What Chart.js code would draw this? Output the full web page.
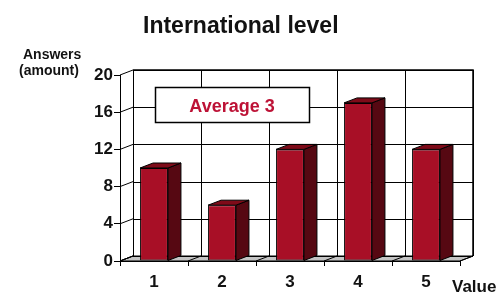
<!DOCTYPE html>
<html>
<head>
<meta charset="utf-8">
<script src="https://cdn.jsdelivr.net/npm/chart.js@4/dist/chart.umd.min.js"></script>
<style>
  html, body { margin: 0; padding: 0; background: #fff; }
  canvas { display: block; }
</style>
</head>
<body>
<canvas id="c" width="501" height="294"></canvas>
<script>
// ---- data ----
const categories = ['1', '2', '3', '4', '5'];
const answers = [10, 6, 12, 17, 12];
const yTickValues = [0, 4, 8, 12, 16, 20];
const titleText = 'International level';
const yAxisTitle = ['Answers', '(amount)'];
const xAxisTitle = 'Value';
const averageLabel = 'Average 3';

// ---- style ----
const FONT = '"Liberation Sans", Arial, sans-serif';
const TEXT = '#121212';
const DX = 13, DY = -5;           // depth offset of 3D walls
const FRONT = '#a80f26', TOP = '#7e0b19', SIDE = '#560812';

function boundaries(x) {
  const out = [];
  for (let k = 0; k <= categories.length; k++) out.push(x.getPixelForValue(k - 0.5));
  return out;
}

const wallsPlugin = {
  id: 'walls',
  beforeDraw(chart) {
    const ctx = chart.ctx, x = chart.scales.x, y = chart.scales.y;
    const ca = chart.chartArea;
    ctx.save();
    ctx.fillStyle = '#fff';
    ctx.fillRect(0, 0, chart.width, chart.height);
    const L = ca.left, R = ca.right, T = y.getPixelForValue(20), B = y.getPixelForValue(0);
    // floor
    ctx.beginPath();
    ctx.moveTo(L, B); ctx.lineTo(R, B); ctx.lineTo(R + DX, B + DY); ctx.lineTo(L + DX, B + DY); ctx.closePath();
    ctx.fillStyle = '#c4c4c4'; ctx.fill();
    ctx.strokeStyle = '#000'; ctx.lineWidth = 1; ctx.stroke();
    // back wall grid (horizontal)
    ctx.lineWidth = 1;
    yTickValues.forEach(v => {
      const py = Math.round(y.getPixelForValue(v) + DY) + 0.5;
      ctx.beginPath(); ctx.moveTo(L + DX, py); ctx.lineTo(R + DX, py); ctx.stroke();
      // left wall slant
      const fy = y.getPixelForValue(v);
      ctx.beginPath(); ctx.moveTo(L, fy); ctx.lineTo(L + DX, fy + DY); ctx.stroke();
    });
    // back wall verticals + floor slants
    boundaries(x).forEach(bx => {
      const px = Math.round(bx + DX) + 0.5;
      ctx.beginPath(); ctx.moveTo(px, T + DY); ctx.lineTo(px, B + DY); ctx.stroke();
      ctx.beginPath(); ctx.moveTo(bx, B); ctx.lineTo(bx + DX, B + DY); ctx.stroke();
    });
    // right edge of back wall a bit heavier
    ctx.lineWidth = 1.5;
    ctx.beginPath(); ctx.moveTo(L + DX, T + DY); ctx.lineTo(R + DX, T + DY); ctx.lineTo(R + DX, B + DY); ctx.stroke();
    // legend box "Average 3"
    const bx0 = 155, by0 = 87, bw = 154, bh = 35;
    ctx.fillStyle = '#fff';
    ctx.fillRect(bx0, by0, bw, bh);
    ctx.lineWidth = 1.5; ctx.strokeStyle = '#000';
    ctx.strokeRect(bx0 + 0.5, by0 + 0.5, bw, bh);
    ctx.fillStyle = '#bd1236';
    ctx.font = 'bold 18px ' + FONT;
    ctx.textAlign = 'center'; ctx.textBaseline = 'alphabetic';
    ctx.fillText(averageLabel, bx0 + bw / 2, 112);
    ctx.restore();
  },
  afterDatasetsDraw(chart) {
    const ctx = chart.ctx;
    const meta = chart.getDatasetMeta(0);
    ctx.save();
    ctx.strokeStyle = '#000'; ctx.lineWidth = 1; ctx.lineJoin = 'round';
    meta.data.forEach(bar => {
      const p = bar.getProps(['x', 'y', 'base', 'width'], true);
      const l = p.x - p.width / 2, r = p.x + p.width / 2, t = p.y, b = p.base;
      // side
      ctx.beginPath();
      ctx.moveTo(r, t); ctx.lineTo(r + DX, t + DY); ctx.lineTo(r + DX, b + DY); ctx.lineTo(r, b); ctx.closePath();
      ctx.fillStyle = SIDE; ctx.fill(); ctx.stroke();
      // top
      ctx.beginPath();
      ctx.moveTo(l, t); ctx.lineTo(l + DX, t + DY); ctx.lineTo(r + DX, t + DY); ctx.lineTo(r, t); ctx.closePath();
      ctx.fillStyle = TOP; ctx.fill(); ctx.stroke();
    });
    ctx.restore();
  },
  afterDraw(chart) {
    const ctx = chart.ctx;
    ctx.save();
    ctx.fillStyle = TEXT;
    ctx.textAlign = 'left'; ctx.textBaseline = 'alphabetic';
    ctx.font = 'bold 23px ' + FONT;
    ctx.fillText(titleText, 143, 33);
    ctx.font = 'bold 14px ' + FONT;
    ctx.fillText(yAxisTitle[0], 23, 59);
    ctx.fillText(yAxisTitle[1], 19, 75);
    ctx.font = 'bold 17px ' + FONT;
    ctx.fillText(xAxisTitle, 452, 292);
    ctx.restore();
  }
};

new Chart(document.getElementById('c'), {
  type: 'bar',
  data: {
    labels: categories,
    datasets: [{
      data: answers,
      backgroundColor: FRONT,
      borderColor: '#000',
      borderWidth: 1,
      borderSkipped: false,
      categoryPercentage: 1,
      barPercentage: 0.41
    }]
  },
  options: {
    responsive: false,
    animation: false,
    devicePixelRatio: 1,
    layout: { padding: { top: 75, right: 41, bottom: 0, left: 0 } },
    plugins: { legend: { display: false }, title: { display: false }, tooltip: { enabled: false } },
    scales: {
      x: {
        offset: true,
        grid: { offset: true, drawOnChartArea: false, drawTicks: true, tickLength: 5, color: '#000', lineWidth: 1 },
        border: { display: true, color: '#000', width: 1 },
        ticks: { color: TEXT, font: { family: FONT, size: 17, weight: 'bold' }, padding: 6, maxRotation: 0 },
        afterFit(s) { s.height = 33; }
      },
      y: {
        min: 0, max: 20,
        afterBuildTicks(s) { s.ticks = yTickValues.map(v => ({ value: v })); },
        grid: { drawOnChartArea: false, drawTicks: true, tickLength: 6, color: '#000', lineWidth: 1 },
        border: { display: true, color: '#000', width: 1 },
        ticks: { color: TEXT, font: { family: FONT, size: 17, weight: 'bold' }, padding: 1 },
        afterFit(s) { s.width = 120; }
      }
    }
  },
  plugins: [wallsPlugin]
});
</script>
</body>
</html>
